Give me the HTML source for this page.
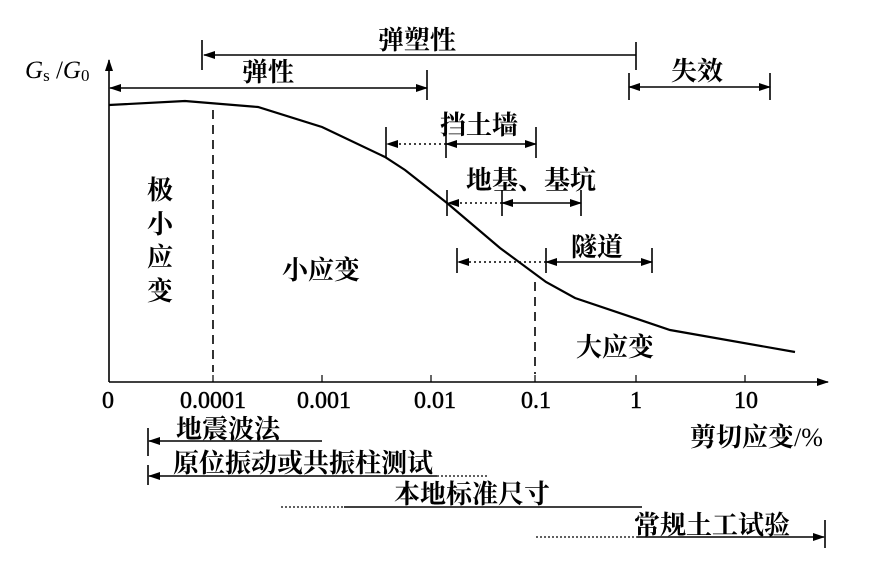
<!DOCTYPE html>
<html><head><meta charset="utf-8"><style>
html,body{margin:0;padding:0;background:#fff}
svg text{font-family:"Liberation Serif","Noto Serif CJK SC","Noto Sans CJK SC",serif;fill:#000}
.c{font-size:26px;font-weight:bold;font-family:"Noto Serif CJK SC","Noto Sans CJK SC",serif}
.n{font-size:24px;font-family:"Liberation Serif",serif;stroke:#000;stroke-width:0.5}
</style></head><body>
<svg width="882" height="568" viewBox="0 0 882 568" xmlns="http://www.w3.org/2000/svg">
<defs>
<marker id="a" markerWidth="12" markerHeight="8" refX="11" refY="4" orient="auto-start-reverse" markerUnits="userSpaceOnUse"><path d="M0,0 L12,4 L0,8 Z" fill="#000"/></marker>
</defs>
<g stroke="#000" fill="none" stroke-width="1.6">
<line x1="109" y1="382" x2="109" y2="60" marker-end="url(#a)"/>
<line x1="109" y1="382" x2="828" y2="382" marker-end="url(#a)"/>
<g stroke-width="1.2">
<line x1="213" y1="382" x2="213" y2="375"/><line x1="322" y1="382" x2="322" y2="375"/>
<line x1="431" y1="382" x2="431" y2="375"/><line x1="535" y1="382" x2="535" y2="375"/>
<line x1="636" y1="382" x2="636" y2="375"/><line x1="745" y1="382" x2="745" y2="375"/>
</g>
<polyline stroke-width="2.2" points="109,105 185,101 258,107 322,127 385,157 405,170 447,203 500,248 546,282 575,298 670,330 795,352"/>
<line x1="213" y1="110" x2="213" y2="372" stroke-dasharray="9,6"/>
<line x1="535" y1="282" x2="535" y2="374" stroke-dasharray="9,6"/>
<line x1="202" y1="40" x2="202" y2="70"/>
<line x1="636" y1="55" x2="204" y2="55" marker-end="url(#a)"/>
<line x1="636" y1="42" x2="636" y2="70"/>
<line x1="427" y1="70" x2="427" y2="100"/>
<line x1="110" y1="88" x2="427" y2="88" marker-start="url(#a)" marker-end="url(#a)"/>
<line x1="629" y1="73" x2="629" y2="100"/><line x1="770" y1="73" x2="770" y2="100"/>
<line x1="629" y1="87" x2="770" y2="87" marker-start="url(#a)" marker-end="url(#a)"/>
<line x1="386" y1="127" x2="386" y2="158"/><line x1="446" y1="127" x2="446" y2="158"/><line x1="536" y1="127" x2="536" y2="158"/>
<line x1="446" y1="144" x2="387" y2="144" stroke-dasharray="2,3" marker-end="url(#a)"/>
<line x1="446" y1="144" x2="536" y2="144" marker-start="url(#a)" marker-end="url(#a)"/>
<line x1="447" y1="190" x2="447" y2="216"/><line x1="502" y1="190" x2="502" y2="216"/><line x1="581" y1="190" x2="581" y2="216"/>
<line x1="502" y1="203" x2="448" y2="203" stroke-dasharray="2,3" marker-end="url(#a)"/>
<line x1="502" y1="203" x2="581" y2="203" marker-start="url(#a)" marker-end="url(#a)"/>
<line x1="457" y1="248" x2="457" y2="273"/><line x1="546" y1="248" x2="546" y2="273"/><line x1="652" y1="248" x2="652" y2="273"/>
<line x1="546" y1="262" x2="458" y2="262" stroke-dasharray="2,3" marker-end="url(#a)"/>
<line x1="546" y1="262" x2="652" y2="262" marker-start="url(#a)" marker-end="url(#a)"/>
<line x1="148" y1="428" x2="148" y2="456"/>
<line x1="322" y1="441" x2="149" y2="441" marker-end="url(#a)"/>
<line x1="148" y1="465" x2="148" y2="485"/>
<line x1="437" y1="476" x2="149" y2="476" marker-end="url(#a)"/>
<line x1="437" y1="476" x2="488" y2="476" stroke-dasharray="2,2" stroke-width="1.2"/>
<line x1="281" y1="507" x2="344" y2="507" stroke-dasharray="2,2" stroke-width="1.2"/>
<line x1="344" y1="507" x2="642" y2="507"/>
<line x1="536" y1="537" x2="637" y2="537" stroke-dasharray="2,2" stroke-width="1.2"/>
<line x1="637" y1="537" x2="824" y2="537" marker-end="url(#a)"/>
<line x1="825" y1="520" x2="825" y2="548"/>
</g>
<text x="25" y="78" style="font-size:25px;font-style:italic">G<tspan font-size="17" font-style="normal" dy="3">s</tspan><tspan dy="-3" font-style="normal"> /</tspan>G<tspan font-size="17" font-style="normal" dy="3">0</tspan></text>
<text class="c" x="378" y="49">弹塑性</text>
<text class="c" x="242" y="81">弹性</text>
<text class="c" x="671" y="80">失效</text>
<text class="c" x="440" y="134">挡土墙</text>
<text class="c" x="466" y="189">地基、基坑</text>
<text class="c" x="571" y="256">隧道</text>
<text class="c" x="147" y="199">极</text>
<text class="c" x="147" y="233">小</text>
<text class="c" x="147" y="266">应</text>
<text class="c" x="147" y="300">变</text>
<text class="c" x="282" y="279">小应变</text>
<text class="c" x="576" y="356">大应变</text>
<g class="n">
<text x="102" y="408">0</text><text x="180" y="408">0.0001</text><text x="297" y="408">0.001</text>
<text x="414" y="408">0.01</text><text x="521" y="408">0.1</text><text x="630" y="408">1</text><text x="734" y="408">10</text>
</g>
<text class="c" x="176" y="438">地震波法</text>
<text class="c" x="173" y="472">原位振动或共振柱测试</text>
<text class="c" x="394" y="503">本地标准尺寸</text>
<text class="c" x="634" y="534">常规土工试验</text>
<text class="c" x="690" y="446">剪切应变<tspan font-family="Liberation Serif" font-weight="normal">/%</tspan></text>
</svg>
</body></html>
